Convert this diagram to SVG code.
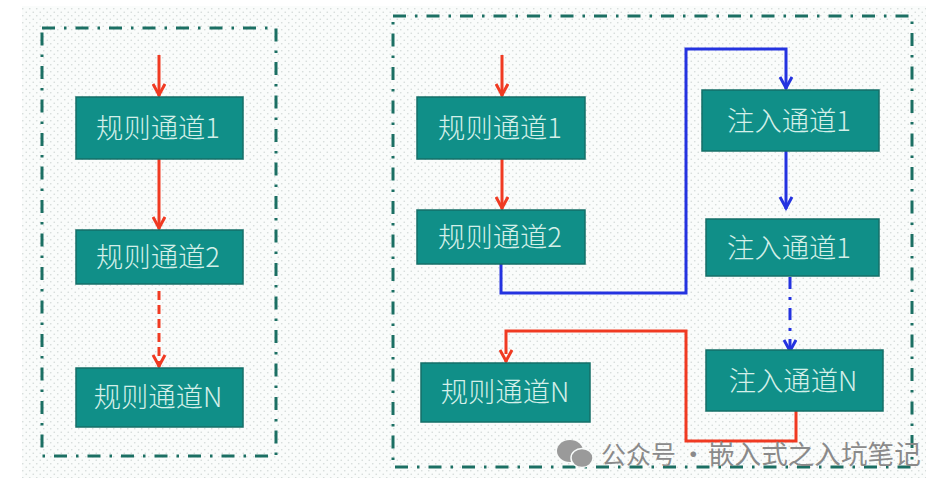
<svg xmlns="http://www.w3.org/2000/svg" width="952" height="493" viewBox="0 0 952 493">
<style>
.panel{fill:none;stroke:#1b6f63;stroke-width:3;stroke-dasharray:13 9 2.5 9}
.box{fill:#108f88;stroke:#146f68;stroke-width:1.5}
.t{font-family:"Noto Sans CJK SC","Liberation Sans",sans-serif;font-size:27.3px;font-weight:300;fill:#d4efe9;text-anchor:middle;dominant-baseline:central}
.c{fill:none;stroke-width:3}
.r{stroke:#f03a22}
.b{stroke:#2433e0}
.d1{stroke-dasharray:9 5}
.d2{stroke-dasharray:12 8 3 8}
.wm{font-family:"Noto Sans CJK SC","Liberation Sans",sans-serif;font-size:26.6px;fill:#8a8a8a}
</style>
<defs>
<pattern id="dots" width="7" height="7" patternUnits="userSpaceOnUse">
<rect width="7" height="7" fill="#fafcfb"/>
<circle cx="1.75" cy="1.75" r="0.8" fill="#d3dad8"/>
<circle cx="5.25" cy="5.25" r="0.8" fill="#d3dad8"/>
</pattern>
<marker id="ar" markerUnits="userSpaceOnUse" markerWidth="16" markerHeight="14" refX="14" refY="7" orient="auto">
<path d="M2 1 L13 7 L2 13" fill="none" stroke="#f03a22" stroke-width="3"/>
</marker>
<marker id="ab" markerUnits="userSpaceOnUse" markerWidth="16" markerHeight="14" refX="14" refY="7" orient="auto">
<path d="M2 1 L13 7 L2 13" fill="none" stroke="#2433e0" stroke-width="3"/>
</marker>
</defs>
<rect x="22" y="6" width="904" height="472" fill="url(#dots)"/>
<rect class="panel" x="42" y="28" width="234" height="428"/>
<rect class="panel" x="393" y="16" width="519" height="451"/>
<g id="connectors">
<path class="c r" marker-end="url(#ar)" d="M159 55V96"/>
<path class="c r" marker-end="url(#ar)" d="M159 159V229"/>
<path class="c r d1" marker-end="url(#ar)" d="M159 291V367"/>
<path class="c r" marker-end="url(#ar)" d="M502 55V96"/>
<path class="c r" marker-end="url(#ar)" d="M502 159V209"/>
<path class="c b" d="M501 264V293H686V49H786V89" marker-end="url(#ab)"/>
<path class="c b" marker-end="url(#ab)" d="M786 151V209"/>
<path class="c b d2" marker-end="url(#ab)" d="M790 277V352"/>
<path class="c r" d="M796 411V441H686V331H506V345"/>
<path class="c r d1" marker-end="url(#ar)" d="M506 345V362"/>
</g>
<g id="n1"><rect class="box" x="76" y="97" width="167" height="62"/><text class="t" x="158" y="126">规则通道1</text></g>
<g id="n2"><rect class="box" x="76" y="230" width="167" height="54"/><text class="t" x="158" y="255">规则通道2</text></g>
<g id="n3"><rect class="box" x="76" y="368" width="167" height="59"/><text class="t" x="158" y="395">规则通道N</text></g>
<g id="n4"><rect class="box" x="417" y="97" width="168" height="62"/><text class="t" x="500" y="126">规则通道1</text></g>
<g id="n5"><rect class="box" x="417" y="210" width="168" height="54"/><text class="t" x="500" y="235">规则通道2</text></g>
<g id="n6"><rect class="box" x="421" y="363" width="169" height="59"/><text class="t" x="505" y="390">规则通道N</text></g>
<g id="n7"><rect class="box" x="702" y="90" width="177" height="61"/><text class="t" x="789" y="119">注入通道1</text></g>
<g id="n8"><rect class="box" x="706" y="219" width="173" height="57"/><text class="t" x="789" y="246">注入通道1</text></g>
<g id="n9"><rect class="box" x="706" y="350" width="177" height="61"/><text class="t" x="793" y="379">注入通道N</text></g>
<g id="watermark">
<ellipse cx="570" cy="451" rx="13" ry="11" fill="#9a9a9a"/>
<ellipse cx="582" cy="458" rx="11" ry="9.5" fill="#9a9a9a" stroke="#f8fbfa" stroke-width="1.5"/>
<text class="wm" x="601" y="464" style="font-size:25px">公众号</text>
<text class="wm" x="680" y="464">·</text>
<text class="wm" x="708" y="464">嵌入式之入坑笔记</text>
</g>
</svg>
